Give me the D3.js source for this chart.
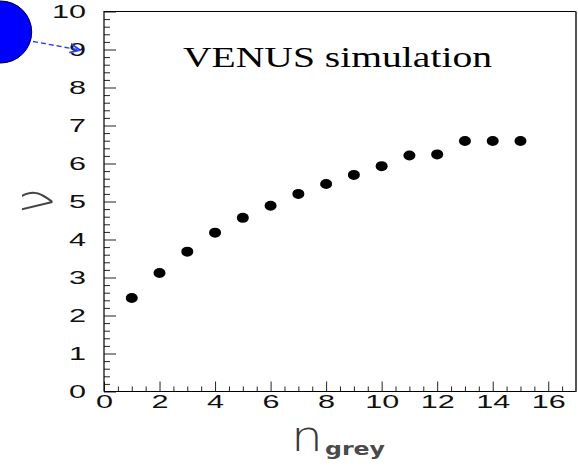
<!DOCTYPE html>
<html>
<head>
<meta charset="utf-8">
<script src="https://cdn.jsdelivr.net/npm/d3@7"></script>
<style>
  html, body { margin: 0; padding: 0; background: #fff; }
  svg { display: block; }
</style>
</head>
<body>
<svg id="chart" width="578" height="469"></svg>
<script>
// Mean number of participants vs. number of grey tracks (VENUS)
const nGrey = [1, 2, 3, 4, 5, 6, 7, 8, 9, 10, 11, 12, 13, 14, 15];
const nuMean = [2.46, 3.12, 3.68, 4.18, 4.57, 4.89, 5.20, 5.46, 5.70, 5.93, 6.21, 6.24, 6.59, 6.59, 6.59];

const xMajorTicks = [0, 2, 4, 6, 8, 10, 12, 14, 16];
const yMajorTicks = [0, 1, 2, 3, 4, 5, 6, 7, 8, 9, 10];

const titleText = "VENUS simulation";
const xLabelMain = "n";
const xLabelSub = "grey";
const yLabelText = "ν";

const svg = d3.select("#chart");

const frame = { left: 104, right: 576, top: 11.5, bottom: 391.5 };

const x = d3.scaleLinear().domain([0, 17]).range([frame.left, frame.right]);
const y = d3.scaleLinear().domain([0, 10]).range([frame.bottom, frame.top]);

const xMinor = d3.range(0, 17.01, 0.5).filter(v => v % 2 !== 0);
const yMinor = d3.range(0, 10.01, 0.2).map(v => +v.toFixed(1)).filter(v => Math.abs(v - Math.round(v)) > 1e-6);

// minor ticks (inward, no labels)
svg.append("g")
  .attr("transform", `translate(0,${frame.bottom})`)
  .call(d3.axisBottom(x).tickValues(xMinor).tickSize(-5).tickFormat(""))
  .call(g => g.select(".domain").remove());
svg.append("g")
  .attr("transform", `translate(${frame.left},0)`)
  .call(d3.axisLeft(y).tickValues(yMinor).tickSize(-6).tickFormat(""))
  .call(g => g.select(".domain").remove());

// major ticks with labels
const gx = svg.append("g")
  .attr("transform", `translate(0,${frame.bottom})`)
  .call(d3.axisBottom(x).tickValues(xMajorTicks).tickSize(-10).tickFormat(d3.format("d")))
  .call(g => g.select(".domain").remove());
gx.selectAll(".tick text")
  .attr("y", null).attr("dy", null)
  .attr("transform", "translate(0,16) scale(1.7,1)")
  .attr("font-family", "Liberation Sans, Arial, sans-serif")
  .attr("font-size", 18)
  .attr("fill", "#111");

const gy = svg.append("g")
  .attr("transform", `translate(${frame.left},0)`)
  .call(d3.axisLeft(y).tickValues(yMajorTicks).tickSize(-12).tickFormat(d3.format("d")))
  .call(g => g.select(".domain").remove());
gy.selectAll(".tick text")
  .attr("x", null).attr("dy", "0.36em")
  .attr("text-anchor", "end")
  .attr("transform", "translate(-18,0) scale(1.7,1)")
  .attr("font-family", "Liberation Sans, Arial, sans-serif")
  .attr("font-size", 18)
  .attr("fill", "#111");

svg.selectAll(".tick line").attr("stroke", "#222").attr("stroke-width", 1);

// frame
svg.append("path")
  .attr("d", `M${frame.left},${frame.bottom}V${frame.top}H${frame.right}`)
  .attr("fill", "none").attr("stroke", "#000").attr("stroke-width", 1.2);
svg.append("line")
  .attr("x1", frame.left).attr("x2", frame.right)
  .attr("y1", frame.bottom).attr("y2", frame.bottom)
  .attr("stroke", "#000").attr("stroke-width", 1.2);
svg.append("line")
  .attr("x1", frame.right).attr("x2", frame.right)
  .attr("y1", frame.top).attr("y2", frame.bottom)
  .attr("stroke", "#555").attr("stroke-width", 2);

// data points
svg.append("g").selectAll("ellipse")
  .data(nGrey.map((n, i) => ({ n, v: nuMean[i] })))
  .join("ellipse")
  .attr("cx", d => x(d.n))
  .attr("cy", d => y(d.v))
  .attr("rx", 6)
  .attr("ry", 5)
  .attr("fill", "#000");

// title
svg.append("text")
  .attr("x", 183).attr("y", 67)
  .attr("font-family", "Liberation Serif, Times New Roman, serif")
  .attr("font-size", 30)
  .attr("textLength", 309)
  .attr("lengthAdjust", "spacingAndGlyphs")
  .attr("fill", "#000")
  .text(titleText);

// x-axis title: n with subscript "grey"
svg.append("text")
  .attr("transform", "translate(291,451) scale(1.2,1)")
  .attr("font-family", "DejaVu Sans, sans-serif")
  .attr("font-weight", 200)
  .attr("font-size", 42)
  .attr("fill", "#3a3a3a")
  .text(xLabelMain);
svg.append("text")
  .attr("x", 325).attr("y", 455)
  .attr("font-family", "DejaVu Sans, sans-serif")
  .attr("font-weight", "bold")
  .attr("font-size", 18)
  .attr("textLength", 60)
  .attr("lengthAdjust", "spacingAndGlyphs")
  .attr("fill", "#4a4a4a")
  .text(xLabelSub);

// y-axis title: nu, rotated
svg.append("text")
  .attr("transform", "translate(52,201) rotate(-90) scale(1,1.25)")
  .attr("text-anchor", "middle")
  .attr("font-family", "DejaVu Sans, sans-serif")
  .attr("font-weight", 200)
  .attr("font-size", 44)
  .attr("fill", "#444")
  .text(yLabelText);

// pointer marker: blue disc with dashed arrow toward the axis
const defs = svg.append("defs");
defs.append("marker")
  .attr("id", "arrow")
  .attr("viewBox", "0 0 10 10")
  .attr("refX", 9).attr("refY", 5)
  .attr("markerWidth", 8).attr("markerHeight", 8)
  .attr("orient", "auto")
  .append("path")
  .attr("d", "M0,1L9,5L0,9")
  .attr("fill", "none")
  .attr("stroke", "#2040ff")
  .attr("stroke-width", 1.5);

svg.append("circle")
  .attr("cx", 0.7).attr("cy", 32).attr("r", 31)
  .attr("fill", "#0000ff")
  .attr("stroke", "#000").attr("stroke-width", 1);

svg.append("line")
  .attr("x1", 33).attr("y1", 41.5)
  .attr("x2", 80).attr("y2", 50)
  .attr("stroke", "#2040ff")
  .attr("stroke-width", 1.4)
  .attr("stroke-dasharray", "5,3")
  .attr("marker-end", "url(#arrow)");
</script>
</body>
</html>
